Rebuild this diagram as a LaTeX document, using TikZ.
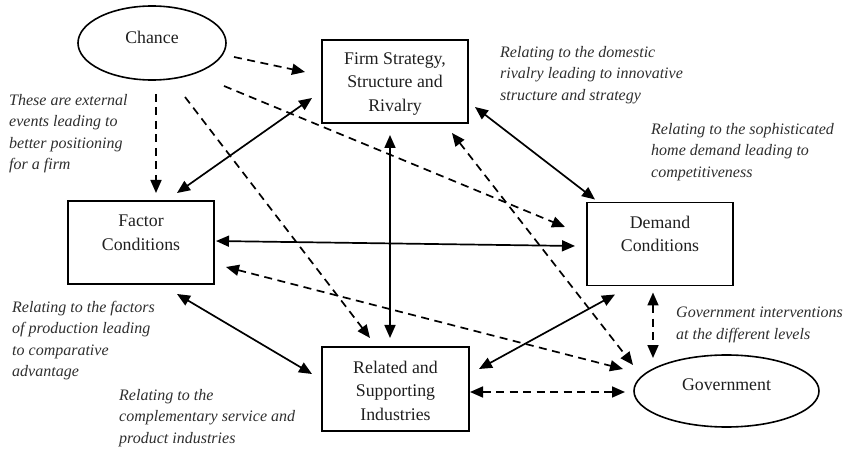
\documentclass[tikz,border=0pt]{standalone}
\usepackage{fontspec}
\setmainfont{Liberation Serif}
\usetikzlibrary{arrows.meta,shapes.geometric}

\tikzset{
  box/.style={draw, line width=1.9pt, rectangle, minimum width=146pt, minimum height=83pt, inner sep=0pt, outer sep=0pt},
  oval/.style={draw, line width=1.6pt, ellipse, inner sep=0pt, outer sep=0pt},
  boxtext/.style={align=center, inner sep=0pt, text=black!88, font=\fontsize{17.8}{23.5}\selectfont},
  note/.style={align=left, inner sep=0pt, anchor=north west, text=black!82, font=\fontsize{16}{21.5}\selectfont\itshape},
  solidarr/.style={line width=1.7pt, {Triangle[length=13pt,width=11pt]}-{Triangle[length=13pt,width=11pt]}},
  dasharr/.style={line width=1.7pt, dash pattern=on 8pt off 5.5pt, -{Triangle[length=13pt,width=11pt]}},
  dashboth/.style={line width=1.7pt, dash pattern=on 8pt off 5.5pt, {Triangle[length=13pt,width=11pt]}-{Triangle[length=13pt,width=11pt]}},
}

\begin{document}
\begin{tikzpicture}[x=1pt, y=-1pt]
\useasboundingbox (0,0) rectangle (844,449);

% the five determinants and chance
\node[oval, minimum width=148pt, minimum height=74pt] (chance) at (152,43) {};
\node[boxtext] (chancelbl) at (152,37.5) {Chance};

\node[box] (firm) at (395,81.5) {};
\node[boxtext] (firmlbl) at (395,84) {Firm Strategy,\\Structure and\\Rivalry};

\node[box] (factor) at (141,242.5) {};
\node[boxtext] (factorlbl) at (141,233) {Factor\\Conditions};

\node[box] (demand) at (660,244) {};
\node[boxtext] (demandlbl) at (660,234) {Demand\\Conditions};

\node[box, minimum width=147pt, minimum height=84pt] (related) at (395.5,389) {};
\node[boxtext] (relatedlbl) at (395.5,390.5) {Related and\\Supporting\\Industries};

\node[oval, minimum width=185pt, minimum height=72pt] (gov) at (726.5,391) {};
\node[boxtext] (govlbl) at (726.5,385) {Government};

% explanatory notes
\node[note] (n1) at (9,94) {These are external\\events leading to\\better positioning\\for a firm};
\node[note] (n2) at (500,46) {Relating to the domestic\\rivalry leading to innovative\\structure and strategy};
\node[note] (n3) at (651,123) {Relating to the sophisticated\\home demand leading to\\competitiveness};
\node[note] (n4) at (12,301) {Relating to the factors\\of production leading\\to comparative\\advantage};
\node[note] (n5) at (119,389) {Relating to the\\complementary service and\\product industries};
\node[note] (n6) at (676,307) {Government interventions\\at the different levels};

% influence of chance
\draw[dasharr] ([shift={(8,14)}]chance.east) -- ([shift={(-17,-9.5)}]firm.west);
\draw[dasharr] ([shift={(4,14)}]chance.south) -- ([shift={(15,-8)}]factor.north);
\draw[dasharr] ([shift={(72,43)}]chance.center) -- ([shift={(-22,-17)}]demand.west);
\draw[dasharr] ([shift={(33,17)}]chance.south) -- ([shift={(-25.5,-9)}]related.north);

% links between the determinants
\draw[solidarr] ([shift={(36,-8)}]factor.north) -- ([shift={(-10,16.5)}]firm.west);
\draw[solidarr] ([shift={(-5,12)}]firm.south) -- ([shift={(-5.5,-9)}]related.north);
\draw[solidarr] ([shift={(7,25.5)}]firm.east) -- ([shift={(8,-3)}]demand.north west);
\draw[solidarr] ([shift={(2,-1.5)}]factor.east) -- ([shift={(-12,2)}]demand.west);
\draw[solidarr] ([shift={(36,10)}]factor.south) -- ([shift={(-10,-15)}]related.west);
\draw[solidarr] ([shift={(10,-20)}]related.east) -- ([shift={(-45,9)}]demand.south);

% role of government
\draw[dashboth] ([shift={(-16,10)}]firm.south east) -- ([shift={(-1,-26)}]gov.west);
\draw[dashboth] ([shift={(12,24.5)}]factor.east) -- ([shift={(-11,-22)}]gov.west);
\draw[dashboth] ([shift={(1,3)}]related.east) -- ([shift={(-9,1)}]gov.west);
\draw[dashboth] ([shift={(-7,7)}]demand.south) -- ([shift={(-73.5,3)}]gov.north);
\end{tikzpicture}
\end{document}
